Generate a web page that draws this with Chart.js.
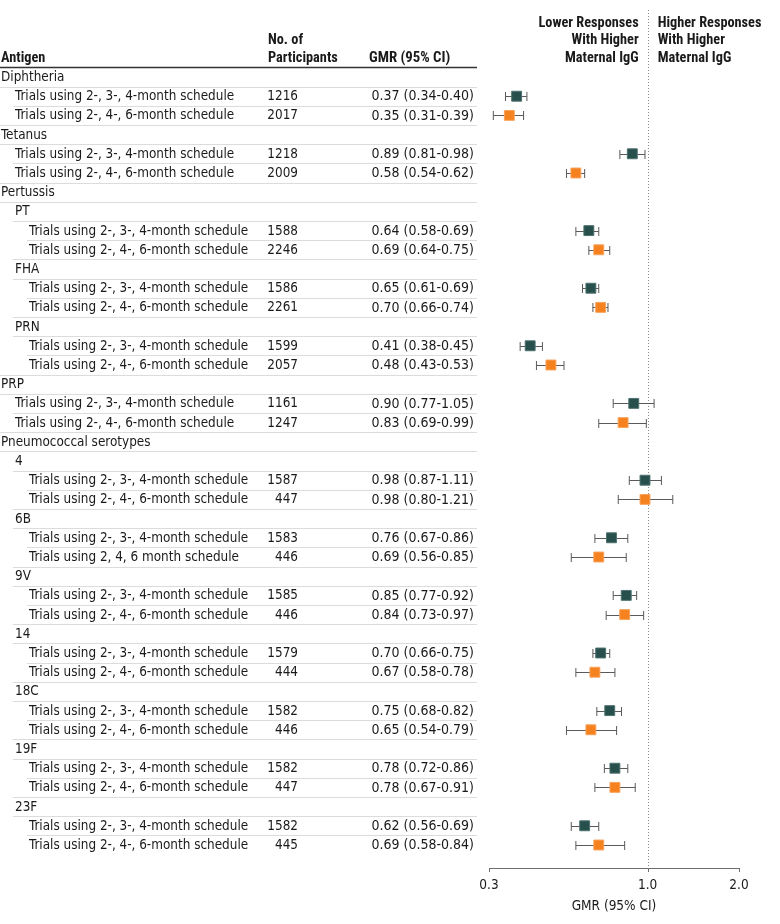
<!DOCTYPE html>
<html>
<head>
<meta charset="utf-8">
<script src="https://cdn.jsdelivr.net/npm/chart.js@4.4.0/dist/chart.umd.min.js"></script>
<style>
  html, body { margin: 0; padding: 0; background: #fff; }
  #wrap { width: 780px; height: 924px; }
</style>
</head>
<body>
<div id="wrap"><canvas id="forest" width="780" height="924"></canvas></div>
<script>
const T234 = 'Trials using 2-, 3-, 4-month schedule';
const T246 = 'Trials using 2-, 4-, 6-month schedule';

// one entry per table row, top to bottom
const rowLabels = [
  'Diphtheria', T234, T246,
  'Tetanus', T234, T246,
  'Pertussis', 'PT', T234, T246, 'FHA', T234, T246, 'PRN', T234, T246,
  'PRP', T234, T246,
  'Pneumococcal serotypes',
  '4', T234, T246,
  '6B', T234, 'Trials using 2, 4, 6 month schedule',
  '9V', T234, T246,
  '14', T234, T246,
  '18C', T234, T246,
  '19F', T234, T246,
  '23F', T234, T246
];
const rowLevels = [
  0, 1, 1,
  0, 1, 1,
  0, 1, 2, 2, 1, 2, 2, 1, 2, 2,
  0, 1, 1,
  0,
  1, 2, 2,
  1, 2, 2,
  1, 2, 2,
  1, 2, 2,
  1, 2, 2,
  1, 2, 2,
  1, 2, 2
];
const schedules = [
  null, '234', '246',
  null, '234', '246',
  null, null, '234', '246', null, '234', '246', null, '234', '246',
  null, '234', '246',
  null,
  null, '234', '246',
  null, '234', '246',
  null, '234', '246',
  null, '234', '246',
  null, '234', '246',
  null, '234', '246',
  null, '234', '246'
];
const participants = [
  null, 1216, 2017,
  null, 1218, 2009,
  null, null, 1588, 2246, null, 1586, 2261, null, 1599, 2057,
  null, 1161, 1247,
  null,
  null, 1587, 447,
  null, 1583, 446,
  null, 1585, 446,
  null, 1579, 444,
  null, 1582, 446,
  null, 1582, 447,
  null, 1582, 445
];
const gmr = [
  null, 0.37, 0.35,
  null, 0.89, 0.58,
  null, null, 0.64, 0.69, null, 0.65, 0.70, null, 0.41, 0.48,
  null, 0.90, 0.83,
  null,
  null, 0.98, 0.98,
  null, 0.76, 0.69,
  null, 0.85, 0.84,
  null, 0.70, 0.67,
  null, 0.75, 0.65,
  null, 0.78, 0.78,
  null, 0.62, 0.69
];
const ciLow = [
  null, 0.34, 0.31,
  null, 0.81, 0.54,
  null, null, 0.58, 0.64, null, 0.61, 0.66, null, 0.38, 0.43,
  null, 0.77, 0.69,
  null,
  null, 0.87, 0.80,
  null, 0.67, 0.56,
  null, 0.77, 0.73,
  null, 0.66, 0.58,
  null, 0.68, 0.54,
  null, 0.72, 0.67,
  null, 0.56, 0.58
];
const ciHigh = [
  null, 0.40, 0.39,
  null, 0.98, 0.62,
  null, null, 0.69, 0.75, null, 0.69, 0.74, null, 0.45, 0.53,
  null, 1.05, 0.99,
  null,
  null, 1.11, 1.21,
  null, 0.86, 0.85,
  null, 0.92, 0.97,
  null, 0.75, 0.78,
  null, 0.82, 0.79,
  null, 0.86, 0.91,
  null, 0.69, 0.84
];
const xTicks = [0.3, 1.0, 2.0];

const FONT = '"DejaVu Sans Condensed", "DejaVu Sans", sans-serif';
const BOLD_FONT = '"Roboto Condensed", "DejaVu Sans Condensed", sans-serif';
const TEXT = '#1a1a1a';
const TEAL = '#27504d';
const ORANGE = '#f5821f';

function points(sched) {
  const out = [];
  gmr.forEach((v, i) => {
    if (v !== null && schedules[i] === sched) out.push({ x: v, y: i });
  });
  return out;
}

function fmt(v) {
  return v.toFixed(2);
}

const forestTable = {
  id: 'forestTable',
  beforeDatasetsDraw(chart) {
    const ctx = chart.ctx;
    const xs = chart.scales.x;
    const ys = chart.scales.y;
    const indent = [1, 15, 29];
    const tableRight = 477;
    const x1 = xs.getPixelForValue(1);
    const axisY = 868;

    ctx.save();

    // header
    ctx.fillStyle = TEXT;
    ctx.font = 'bold 14.3px ' + BOLD_FONT;
    ctx.textBaseline = 'middle';
    ctx.textAlign = 'left';
    ctx.fillText('Antigen', 1, 58);
    ctx.fillText('No. of', 268, 40.5);
    ctx.fillText('Participants', 268, 58);
    ctx.font = 'bold 14.8px ' + BOLD_FONT;
    ctx.fillText('GMR (95% CI)', 369, 58);
    ctx.font = 'bold 14.3px ' + BOLD_FONT;
    ctx.textAlign = 'right';
    ctx.fillText('Lower Responses', x1 - 9, 23);
    ctx.fillText('With Higher', x1 - 9, 40.5);
    ctx.fillText('Maternal IgG', x1 - 9, 58);
    ctx.textAlign = 'left';
    ctx.fillText('Higher Responses', x1 + 10, 23);
    ctx.fillText('With Higher', x1 + 10, 40.5);
    ctx.fillText('Maternal IgG', x1 + 10, 58);

    ctx.strokeStyle = '#333';
    ctx.lineWidth = 1.5;
    ctx.beginPath();
    ctx.moveTo(0, 67.5);
    ctx.lineTo(tableRight, 67.5);
    ctx.stroke();

    // row separators
    ctx.strokeStyle = '#dcdcdc';
    ctx.lineWidth = 1;
    for (let i = 1; i < rowLabels.length; i++) {
      const yy = Math.round(ys.getPixelForValue(i - 0.5)) + 0.5;
      const start = Math.max(0, Math.min(indent[rowLevels[i]], indent[rowLevels[i - 1]]) - 2);
      ctx.beginPath();
      ctx.moveTo(start, yy);
      ctx.lineTo(tableRight, yy);
      ctx.stroke();
    }

    // row text
    ctx.fillStyle = TEXT;
    rowLabels.forEach((lab, i) => {
      const yy = ys.getPixelForValue(i) + 0.5;
      ctx.font = '13.4px ' + FONT;
      ctx.textAlign = 'left';
      ctx.fillText(lab, indent[rowLevels[i]], yy);
      if (participants[i] !== null) {
        ctx.textAlign = 'right';
        ctx.fillText(String(participants[i]), 298, yy);
        ctx.font = '14px ' + FONT;
        ctx.fillText(fmt(gmr[i]) + ' (' + fmt(ciLow[i]) + '-' + fmt(ciHigh[i]) + ')', 474, yy);
      }
    });

    // reference line at GMR = 1
    ctx.strokeStyle = '#8a8a8a';
    ctx.lineWidth = 1;
    ctx.setLineDash([1, 2]);
    ctx.beginPath();
    ctx.moveTo(Math.round(x1) + 0.5, 10);
    ctx.lineTo(Math.round(x1) + 0.5, axisY);
    ctx.stroke();
    ctx.setLineDash([]);

    // x axis line and ticks
    ctx.strokeStyle = '#6e6e6e';
    ctx.beginPath();
    ctx.moveTo(xs.getPixelForValue(xTicks[0]), axisY + 0.5);
    ctx.lineTo(xs.getPixelForValue(xTicks[xTicks.length - 1]), axisY + 0.5);
    xTicks.forEach(t => {
      const tx = Math.round(xs.getPixelForValue(t)) + 0.5;
      ctx.moveTo(tx, axisY);
      ctx.lineTo(tx, axisY + 4);
    });
    ctx.stroke();

    // confidence intervals
    ctx.strokeStyle = '#5a5a5a';
    gmr.forEach((v, i) => {
      if (v === null) return;
      const yy = Math.round(ys.getPixelForValue(i)) + 0.5;
      const a = xs.getPixelForValue(ciLow[i]);
      const b = xs.getPixelForValue(ciHigh[i]);
      ctx.beginPath();
      ctx.moveTo(a, yy);
      ctx.lineTo(b, yy);
      ctx.moveTo(a, yy - 4.5);
      ctx.lineTo(a, yy + 4.5);
      ctx.moveTo(b, yy - 4.5);
      ctx.lineTo(b, yy + 4.5);
      ctx.stroke();
    });

    ctx.restore();
  }
};

new Chart(document.getElementById('forest'), {
  type: 'scatter',
  data: {
    datasets: [
      {
        label: '2-, 3-, 4-month schedule',
        data: points('234'),
        backgroundColor: TEAL,
        borderColor: '#4f7270',
        borderWidth: 1,
        pointStyle: 'rect',
        pointRadius: 7
      },
      {
        label: '2-, 4-, 6-month schedule',
        data: points('246'),
        backgroundColor: ORANGE,
        borderColor: '#f7a35c',
        borderWidth: 1,
        pointStyle: 'rect',
        pointRadius: 7
      }
    ]
  },
  options: {
    responsive: false,
    animation: false,
    events: [],
    layout: { padding: { left: 489, right: 41, top: 67.4, bottom: 0 } },
    plugins: {
      legend: { display: false },
      tooltip: { enabled: false }
    },
    scales: {
      x: {
        type: 'logarithmic',
        min: 0.3,
        max: 2.0,
        afterBuildTicks: s => { s.ticks = xTicks.map(v => ({ value: v })); },
        afterFit: s => { s.height = 69.4; },
        grid: { display: false, drawTicks: false },
        border: { display: false },
        ticks: {
          padding: 23,
          autoSkip: false,
          maxRotation: 0,
          color: TEXT,
          font: { family: FONT, size: 13.5 },
          callback: v => Number(v).toFixed(1)
        },
        title: {
          display: true,
          text: 'GMR (95% CI)',
          color: TEXT,
          padding: { top: 0, bottom: 9 },
          font: { family: FONT, size: 13.5 }
        }
      },
      y: {
        type: 'linear',
        display: false,
        reverse: true,
        min: -0.5,
        max: 40.5
      }
    }
  },
  plugins: [forestTable]
});
</script>
</body>
</html>
